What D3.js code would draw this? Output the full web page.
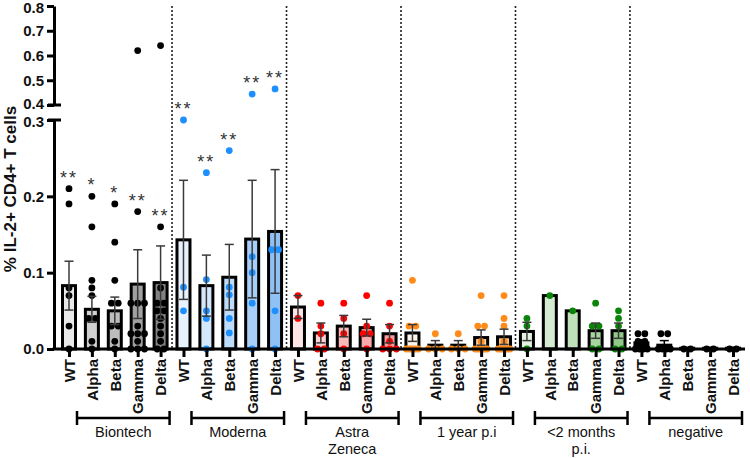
<!DOCTYPE html>
<html><head><meta charset="utf-8">
<script src="https://cdn.jsdelivr.net/npm/d3@7"></script>
<style>body{margin:0;background:#fff} svg{display:block;font-family:"Liberation Sans",Arial,sans-serif}</style>
</head><body><svg id="c" width="750" height="458"></svg>
<script>
// ---- data ----
const groupNames = [["Biontech"],["Moderna"],["Astra","Zeneca"],["1 year p.i"],["<2 months","p.i."],["negative"]];
const variants = ["WT","Alpha","Beta","Gamma","Delta"];
const meanValues = [
  [0.083,0.052,0.050,0.085,0.087],
  [0.143,0.083,0.094,0.144,0.154],
  [0.055,0.021,0.030,0.028,0.020],
  [0.021,0.005,0.005,0.015,0.016],
  [0.023,0.070,0.050,0.024,0.024],
  [0.008,0.005,0.001,0.001,0.001]
];
const semValues = [
  [0.032,0.017,0.018,0.045,0.048],
  [0.078,0.040,0.043,0.077,0.081],
  [0.015,0.013,0.014,0.011,0.012],
  [0.011,0.006,0.006,0.010,0.010],
  [0.012,0,0,0.010,0.010],
  [0.004,0.006,0.001,0.001,0.001]
];
const dotValues = [
  [[0.21,0.19,0.08,0.07,0.03,0],
   [0.20,0.16,0.09,0.08,0.07,0.04,0.035,0.01,0],
   [0.19,0.14,0.09,0.06,0.055,0.03,0.03,0.01,0],
   [0.62,0.18,0.06,0.06,0.06,0.03,0.02,0.02,0.02,0.01,0,0,0],
   [0.64,0.16,0.08,0.06,0.06,0.05,0.05,0.04,0.03,0.02,0.01,0,0]],
  [[0.30,0.081,0.05],
   [0.231,0.091,0.05,0.04,0],
   [0.26,0.081,0.071,0.04,0.021],
   [0.444,0.121,0.10,0.06,0],
   [0.465,0.13,0.13,0.05,0]],
  [[0.07,0.04],
   [0.06,0.03,0.02,0,0],
   [0.06,0.04,0.02,0],
   [0.07,0.03,0.02,0.02,0],
   [0.06,0.03,0.01,0,0,0]],
  [[0.09,0.03,0.03,0,0,0,0,0],
   [0.02,0,0,0],
   [0.02,0,0,0],
   [0.07,0.03,0.03,0.01,0,0,0,0,0,0],
   [0.07,0.04,0.03,0.01,0,0,0,0,0,0]],
  [[0.04,0.03,0],
   [0.07],
   [0.05],
   [0.06,0.03,0.03,0,0],
   [0.05,0.04,0.03,0,0]],
  [[0.02,0.02,0.01,0.01,0,0,0,0],
   [0.02,0.02,0,0,0,0],
   [0,0],
   [0,0],
   [0,0]]
];
const starLabels = [["**","*","*","**","**"],["**","**","**","**","**"]];
const starAnchors = [[0.21,0.20,0.19,0.18,0.16],[0.30,0.231,0.26,0.444,0.465]];
const barFills = [
  ["#e9e9e9","#d0d0d0","#bcbcbc","#a0a0a0","#828282"],
  ["#e7f2fd","#d4e7fb","#bedcfa","#a8cff8","#8fc1f5"],
  ["#fde5e5","#fcd2d2","#fab9b9","#f8aaaa","#f59d9d"],
  ["#fff5eb","#ffebd8","#ffdfc2","#ffd2a9","#ffc690"],
  ["#e5f2e2","#d5ebd1","#c0e0ba","#a8d4a1","#92c88a"],
  ["#000000","#000000","#000000","#000000","#000000"]
];
const dotColors = ["#000000","#1e8fff","#ff0000","#ff8c1a","#0a850a","#000000"];
const yTicksLow = [0,0.1,0.2,0.3];
const yTicksHigh = [0.4,0.5,0.6,0.7,0.8];

// ---- layout ----
const svg = d3.select("#c");
const keys = [];
groupNames.forEach((g,gi)=>variants.forEach(v=>keys.push(gi+"|"+v)));
const x = d3.scalePoint().domain(keys).range([69,733]);
const yLow = d3.scaleLinear().domain([0,0.3]).range([349,120]);
const yHigh = d3.scaleLinear().domain([0.4,0.8]).range([105,6]);
const yv = v => v > 0.35 ? yHigh(v) : yLow(v);
const axisX = 54, baseY = yLow(0);

// dotted separators
for (let gi=0; gi<groupNames.length-1; gi++){
  const xs = (x(gi+"|Delta") + x((gi+1)+"|WT"))/2;
  svg.append("line").attr("x1",xs).attr("x2",xs).attr("y1",yHigh(0.8)).attr("y2",baseY)
    .attr("stroke","#222").attr("stroke-width",1.6).attr("stroke-dasharray","2,2");
}

// bars
const barW = 13;
groupNames.forEach((g,gi)=>{
  variants.forEach((v,vi)=>{
    const cx = x(gi+"|"+v), m = meanValues[gi][vi];
    svg.append("rect").attr("x",cx-barW/2).attr("width",barW)
      .attr("y",yv(m)).attr("height",baseY-yv(m))
      .attr("fill",barFills[gi][vi]).attr("stroke","#000").attr("stroke-width",3);
  });
});

// dots
groupNames.forEach((g,gi)=>{
  variants.forEach((v,vi)=>{
    const cx = x(gi+"|"+v);
    const vals = dotValues[gi][vi].slice().sort((a,b)=>b-a);
    const clusters = [];
    vals.forEach(val=>{
      const py = yv(val);
      const last = clusters[clusters.length-1];
      if (last && Math.abs(last.y - py) < 4) last.n++;
      else clusters.push({y:py, n:1});
    });
    clusters.forEach(c=>{
      const sp = c.n<=3 ? 6.8 : 12/(c.n-1);
      for (let i=0;i<c.n;i++){
        svg.append("circle").attr("cx",cx+(i-(c.n-1)/2)*sp).attr("cy",c.y).attr("r",3.4)
          .attr("fill",dotColors[gi]);
      }
    });
  });
});

// error bars
groupNames.forEach((g,gi)=>{
  variants.forEach((v,vi)=>{
    const s = semValues[gi][vi]; if (!s) return;
    const cx = x(gi+"|"+v), m = meanValues[gi][vi];
    const y1 = yv(Math.max(0,m-s)), y2 = yv(m+s);
    const col = gi===5 ? "#000" : "#3a3a3a";
    const eg = svg.append("g").attr("stroke",col).attr("stroke-width",1.5);
    eg.append("line").attr("x1",cx).attr("x2",cx).attr("y1",y1).attr("y2",y2);
    eg.append("line").attr("x1",cx-4.5).attr("x2",cx+4.5).attr("y1",y2).attr("y2",y2);
    eg.append("line").attr("x1",cx-4.5).attr("x2",cx+4.5).attr("y1",y1).attr("y2",y1);
  });
});

// stars
starLabels.forEach((row,gi)=>{
  row.forEach((lab,vi)=>{
    const cx = x(gi+"|"+variants[vi]);
    svg.append("text").attr("x",cx).attr("y",yv(starAnchors[gi][vi])-5)
      .attr("text-anchor","middle").attr("font-size",18).attr("fill","#333")
      .attr("letter-spacing","2px").text(lab);
  });
});

// y axes
function styleAxis(sel){
  sel.select(".domain").attr("stroke","#000").attr("stroke-width",3);
  sel.selectAll(".tick line").attr("stroke","#000").attr("stroke-width",3);
  sel.selectAll(".tick text").attr("font-size",15).attr("font-weight","bold").attr("fill","#111")
    .attr("font-family","Liberation Sans, Arial, sans-serif");
}
const gLow = svg.append("g").attr("transform",`translate(${axisX},0)`)
  .call(d3.axisLeft(yLow).tickValues(yTicksLow).tickSize(7).tickSizeOuter(0).tickFormat(d3.format(".1f")))
  .call(styleAxis);
const gHigh = svg.append("g").attr("transform",`translate(${axisX},0)`)
  .call(d3.axisLeft(yHigh).tickValues(yTicksHigh).tickSize(7).tickSizeOuter(0).tickFormat(d3.format(".1f")))
  .call(styleAxis);
// small nudges so tightly packed labels around the break do not collide
gLow.selectAll(".tick text").filter(d=>d===0.3).attr("dy","0.45em");
gHigh.selectAll(".tick text").filter(d=>d===0.4).attr("dy","0.2em");
gHigh.selectAll(".tick text").filter(d=>d===0.8).attr("dy","0.45em");
[yLow(0.3), yHigh(0.4)].forEach(yy=>{
  svg.append("line").attr("x1",axisX-6).attr("x2",axisX+7).attr("y1",yy).attr("y2",yy)
    .attr("stroke","#000").attr("stroke-width",3);
});

// x axis
const xa = svg.append("g").attr("transform",`translate(0,${baseY})`)
  .call(d3.axisBottom(x).tickSize(8).tickFormat(d=>d.split("|")[1]));
xa.select(".domain").remove();
xa.selectAll(".tick line").attr("stroke","#000").attr("stroke-width",3);
xa.selectAll(".tick text").attr("transform","rotate(-90)").attr("x",-10).attr("y",0).attr("dy","0.35em")
  .attr("text-anchor","end").attr("font-size",15).attr("font-weight","bold").attr("fill","#111")
  .attr("font-family","Liberation Sans, Arial, sans-serif");
svg.append("line").attr("x1",axisX-1.5).attr("x2",745).attr("y1",baseY).attr("y2",baseY)
  .attr("stroke","#000").attr("stroke-width",3);

// group brackets
groupNames.forEach((g,gi)=>{
  const x1 = x(gi+"|WT")+8, x2 = x(gi+"|Delta")+9, by = 418;
  const bg = svg.append("g").attr("stroke","#000").attr("stroke-width",2.5);
  bg.append("line").attr("x1",x1).attr("x2",x2).attr("y1",by).attr("y2",by);
  bg.append("line").attr("x1",x1).attr("x2",x1).attr("y1",by-7).attr("y2",by+7);
  bg.append("line").attr("x1",x2).attr("x2",x2).attr("y1",by-7).attr("y2",by+7);
  g.forEach((line,li)=>{
    svg.append("text").attr("x",(x1+x2)/2).attr("y",437+li*17).attr("text-anchor","middle")
      .attr("font-size",14.5).attr("fill","#111").text(line);
  });
});

// y title
svg.append("text").attr("transform","translate(16,189) rotate(-90)").attr("text-anchor","middle")
  .attr("font-size",17).attr("font-weight","bold").attr("fill","#111").text("% IL-2+ CD4+ T cells");
</script></body></html>
